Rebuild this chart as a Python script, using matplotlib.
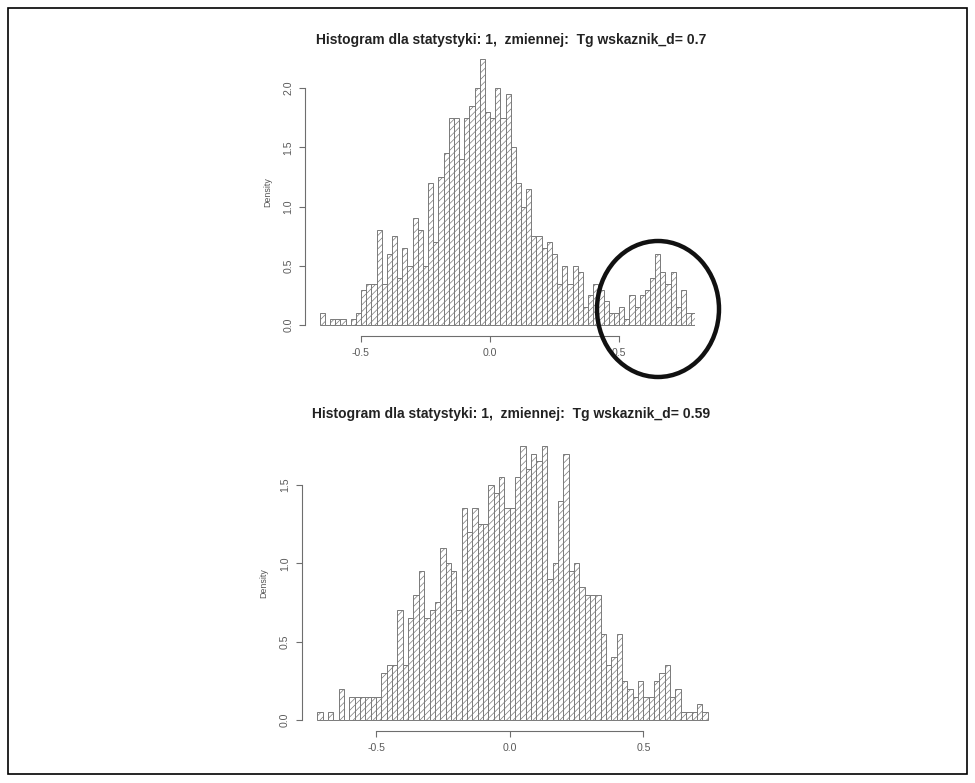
import numpy as np
import matplotlib
matplotlib.use("Agg")
import matplotlib.pyplot as plt
from matplotlib.patches import Ellipse, Rectangle

plt.rcParams['font.family'] = ['Liberation Sans', 'DejaVu Sans']
plt.rcParams['hatch.color'] = '#909090'
plt.rcParams['hatch.linewidth'] = 0.5

# liczebnosci w przedzialach o szerokosci 0.02, n = 1000
n_obs = 1000
bin_w = 0.02

start_1 = -0.66
counts_1 = [2, 0, 1, 1, 1, 0, 1, 2,
            6, 7, 7, 16, 7, 12, 15, 8, 13, 10,
            18, 16, 10, 24, 14, 25, 29, 35, 35, 28,
            35, 37, 40, 45, 36, 35, 40, 35, 39, 30,
            24, 20, 23, 15, 15, 13, 14, 12, 7, 10,
            7, 10, 9, 3, 5, 7, 6, 4, 2, 2,
            3, 1, 5, 3, 5, 6, 8, 12, 9, 7,
            9, 3, 6, 2, 2, 1, 1]

start_2 = -0.72
counts_2 = [1, 0, 1, 0, 4, 0, 3, 3, 3, 3, 3, 3,
            6, 7, 7, 14, 7, 13, 16, 19, 13, 14,
            15, 22, 20, 19, 14, 27, 24, 27, 25, 25,
            30, 29, 31, 27, 27, 31, 35, 32, 34, 33,
            35, 18, 20, 28, 34, 19, 20, 17, 16, 16,
            16, 11, 7, 8, 11, 5, 4, 3, 5, 3,
            3, 5, 6, 7, 3, 4, 1, 1, 1, 2, 1]

titles = ["Histogram dla statystyki: 1,  zmiennej:  Tg wskaznik_d= 0.7",
          "Histogram dla statystyki: 1,  zmiennej:  Tg wskaznik_d= 0.59"]
x_ticks = [-0.5, 0.0, 0.5]
y_ticks_1 = [0.0, 0.5, 1.0, 1.5, 2.0]
y_ticks_2 = [0.0, 0.5, 1.0, 1.5]

W, H = 975, 783
fig = plt.figure(figsize=(W / 100, H / 100), dpi=100)

def px_axes(left, top, right, bottom):
    return fig.add_axes([left / W, 1 - bottom / H, (right - left) / W, (bottom - top) / H])

def draw_hist(ax, start, counts, yticks, xlim, ylim):
    counts = np.array(counts, dtype=float)
    edges = start + bin_w * np.arange(len(counts))
    dens = counts / (n_obs * bin_w)
    ax.bar(edges, dens, width=bin_w, align='edge', color='white',
           edgecolor='#7a7a7a', linewidth=0.7, hatch='/////')
    ax.set_xlim(*xlim)
    ax.set_ylim(*ylim)
    for s in ['top', 'right']:
        ax.spines[s].set_visible(False)
    ax.spines['bottom'].set_bounds(x_ticks[0], x_ticks[-1])
    ax.spines['left'].set_bounds(yticks[0], yticks[-1])
    for s in ['bottom', 'left']:
        ax.spines[s].set_color('#6e6e6e')
        ax.spines[s].set_linewidth(0.8)
    ax.set_xticks(x_ticks)
    ax.set_xticklabels(['%.1f' % v for v in x_ticks])
    ax.set_yticks(yticks)
    ax.set_yticklabels(['%.1f' % v for v in yticks])
    ax.tick_params(direction='out', length=4.5, width=0.8, color='#6e6e6e',
                   labelsize=7.6, labelcolor='#5a5a5a', pad=4)
    for lbl in ax.get_yticklabels():
        lbl.set_rotation(90)
        lbl.set_va('center')
    ax.set_ylabel('Density', fontsize=6.4, color='#555555', labelpad=8)
    ax.patch.set_alpha(0)

ax1 = px_axes(305.3, 47.9, 695.4, 335.7)
draw_hist(ax1, start_1, counts_1, y_ticks_1, (-0.716, 0.796), (-0.09, 2.34))

ax2 = px_axes(301.6, 434.8, 723.2, 731.0)
draw_hist(ax2, start_2, counts_2, y_ticks_2, (-0.7784, 0.7984), (-0.07, 1.82))

# tytuly nad wykresami
for txt, yc in zip(titles, [40, 414]):
    fig.text(511 / W, 1 - yc / H, txt, ha='center', va='center',
             fontsize=10, fontweight='bold', color='#222222')

# obwodka wokol drugiego skupienia
fig.patches.append(Ellipse((658 / W, 1 - 309 / H), 122 / W, 136 / H,
                           transform=fig.transFigure, fill=False,
                           edgecolor='#111111', linewidth=3.2))
# ramka
fig.patches.append(Rectangle((8 / W, 1 - 774 / H), 959 / W, 766 / H,
                             transform=fig.transFigure, fill=False,
                             edgecolor='black', linewidth=1.2))

fig.savefig('out.png', dpi=100)
